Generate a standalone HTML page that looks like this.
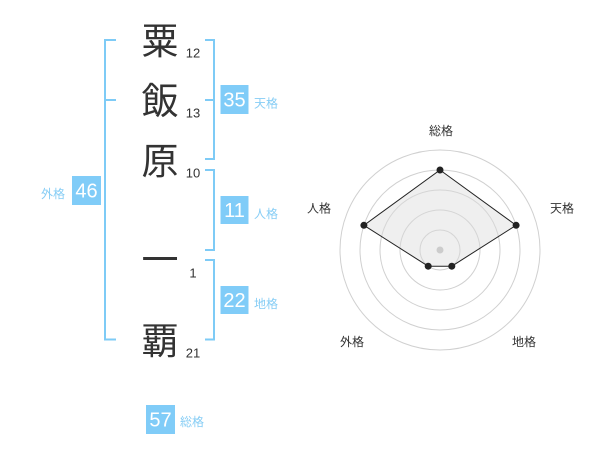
<!DOCTYPE html>
<html><head><meta charset="utf-8"><style>
html,body{margin:0;padding:0;background:#fff;}
svg{display:block;}
text{font-family:"Liberation Sans","Noto Sans CJK JP",sans-serif;}
.k{font-family:"Noto Sans CJK JP","Liberation Sans",sans-serif;font-size:37px;fill:#333;}
.n{font-size:13px;fill:#333;}
.bx{fill:#80ccf8;}
.bn{font-size:20px;fill:#fff;}
.lb{font-family:"Liberation Sans","Noto Sans CJK JP",sans-serif;font-size:12px;fill:#86cdf5;}
.rl{font-size:12px;fill:#333;}
</style></head><body>
<svg width="600" height="470" viewBox="0 0 600 470" xmlns="http://www.w3.org/2000/svg">
<!-- characters -->
<text class="k" x="160" y="54" text-anchor="middle">粟</text>
<text class="k" x="160" y="114" text-anchor="middle">飯</text>
<text class="k" x="160" y="174" text-anchor="middle">原</text>
<text class="k" x="160" y="273" text-anchor="middle">一</text>
<text class="k" x="160" y="354" text-anchor="middle">覇</text>
<!-- stroke numbers -->
<text class="n" x="193" y="57.5" text-anchor="middle">12</text>
<text class="n" x="193" y="117.5" text-anchor="middle">13</text>
<text class="n" x="193" y="177.5" text-anchor="middle">10</text>
<text class="n" x="193" y="277.3" text-anchor="middle">1</text>
<text class="n" x="193" y="357.3" text-anchor="middle">21</text>
<!-- brackets -->
<g stroke="#7ecbf6" stroke-width="2" fill="none">
<path d="M116 40 H105 V339.5 H116"/>
<path d="M105 100 H116"/>
<path d="M205 40 H214 V159 H205"/>
<path d="M205 100 H214"/>
<path d="M205 170 H214 V250 H205"/>
<path d="M205 260 H214 V339.5 H205"/>
</g>
<!-- boxes -->
<rect class="bx" x="220.5" y="85" width="28" height="29"/>
<text class="bn" x="234.5" y="106.5" text-anchor="middle">35</text>
<text class="lb" x="254" y="107.5">天格</text>
<rect class="bx" x="220.5" y="196" width="28" height="28"/>
<text class="bn" x="234.5" y="217" text-anchor="middle">11</text>
<text class="lb" x="254" y="218">人格</text>
<rect class="bx" x="220.5" y="286" width="28" height="28"/>
<text class="bn" x="234.5" y="307" text-anchor="middle">22</text>
<text class="lb" x="254" y="308">地格</text>
<rect class="bx" x="72" y="176" width="29" height="29"/>
<text class="bn" x="86.5" y="197.5" text-anchor="middle">46</text>
<text class="lb" x="41" y="198">外格</text>
<rect class="bx" x="146" y="405" width="29" height="29"/>
<text class="bn" x="160.5" y="426.5" text-anchor="middle">57</text>
<text class="lb" x="180" y="426">総格</text>
<!-- radar -->
<g fill="none" stroke="#d0d0d0" stroke-width="1">
<circle cx="440" cy="250" r="20"/>
<circle cx="440" cy="250" r="40"/>
<circle cx="440" cy="250" r="60"/>
<circle cx="440" cy="250" r="80"/>
<circle cx="440" cy="250" r="100"/>
</g>
<polygon points="440,170 516.1,225.3 451.8,266.2 428.2,266.2 363.9,225.3" fill="rgba(220,220,220,0.45)" stroke="#222" stroke-width="1"/>
<circle cx="440" cy="250" r="3.5" fill="#ccc"/>
<g fill="#222">
<circle cx="440" cy="170" r="3.5"/>
<circle cx="516.1" cy="225.3" r="3.5"/>
<circle cx="451.8" cy="266.2" r="3.5"/>
<circle cx="428.2" cy="266.2" r="3.5"/>
<circle cx="363.9" cy="225.3" r="3.5"/>
</g>
<text class="rl" x="441" y="135" text-anchor="middle">総格</text>
<text class="rl" x="562" y="212.5" text-anchor="middle">天格</text>
<text class="rl" x="319" y="212.5" text-anchor="middle">人格</text>
<text class="rl" x="352" y="346" text-anchor="middle">外格</text>
<text class="rl" x="524" y="346" text-anchor="middle">地格</text>
</svg>
</body></html>
